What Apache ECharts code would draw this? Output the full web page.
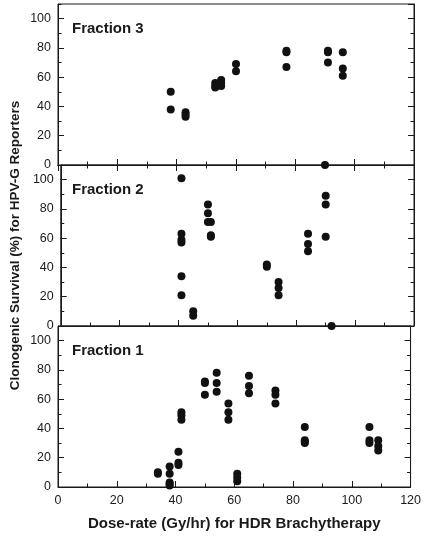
<!DOCTYPE html>
<html>
<head>
<meta charset="utf-8">
<script src="https://cdn.jsdelivr.net/npm/echarts@6/dist/echarts.min.js"></script>
<style>
html,body{margin:0;padding:0;background:#fff;}
#chart{width:424px;height:536px;}
</style>
</head>
<body>
<div id="chart"></div>
<script>
// Fraction 3 (top panel): [dose-rate, survival %]
const fraction3 = [
  [38, 50], [38, 38],
  [43, 36], [43, 34.5], [43, 33],
  [53, 56], [53, 54], [53, 53],
  [55, 58], [55, 56], [55, 54],
  [60, 69], [60, 64],
  [77, 78], [77, 77], [77, 67],
  [90, 0],
  [91, 78], [91, 77], [91, 70],
  [96, 77], [96, 66], [96, 61]
];
// Fraction 2 (middle panel)
const fraction2 = [
  [41, 101], [41, 63], [41, 59], [41, 57], [41, 34], [41, 21],
  [45, 10], [45, 7],
  [50, 83], [50, 77], [50, 71], [51, 71], [51, 62], [51, 61],
  [70, 42], [70, 40.5],
  [74, 30], [74, 26], [74, 21],
  [84, 63], [84, 56], [84, 51],
  [90, 89], [90, 83], [90, 61],
  [92, 0]
];
// Fraction 1 (bottom panel)
const fraction1 = [
  [34, 10], [34, 9],
  [38, 14], [38, 9], [38, 3], [38, 2], [38, 1],
  [41, 24], [41, 16.5], [41, 15],
  [42, 51], [42, 49], [42, 46],
  [50, 72], [50, 71], [50, 63],
  [54, 78], [54, 71], [54, 65],
  [58, 57], [58, 51], [58, 46],
  [61, 9], [61, 6.5], [61, 4],
  [65, 76], [65, 69], [65, 64],
  [74, 66], [74, 63], [74, 57],
  [84, 41], [84, 32], [84, 31], [84, 30],
  [106, 41], [106, 32], [106, 30],
  [109, 32], [109, 28], [109, 25]
];
const panelNames = ['Fraction 3', 'Fraction 2', 'Fraction 1'];
const xTitle = 'Dose-rate (Gy/hr) for HDR Brachytherapy';
const yTitle = 'Clonogenic Survival (%) for HPV-G Reporters';
const xRange = [0, 120];
const yRange = [0, 110];

const panelData = [fraction3, fraction2, fraction1];
const FONT = 'Liberation Sans, Arial, Helvetica, sans-serif';
const INK = '#1a1a1a';
const gridTops = [4, 165, 326];
const gridH = 161;

const grids = [], xAxes = [], yAxes = [], series = [], titles = [];
gridTops.forEach((top, i) => {
  grids.push({left: 58, width: 356, top: top, height: gridH, show: true,
    borderColor: INK, borderWidth: 1, backgroundColor: 'transparent', containLabel: false});
  const isBottom = i === 2;
  xAxes.push({
    gridIndex: i, type: 'value', position: 'bottom', min: xRange[0], max: xRange[1], interval: 20,
    name: isBottom ? xTitle : '', nameLocation: 'middle', nameGap: 29,
    nameTextStyle: {fontFamily: FONT, fontWeight: 'bold', fontSize: 15, color: INK},
    axisLine: {show: true, lineStyle: {color: INK, width: 1}},
    axisTick: {show: true, inside: true, length: 6, lineStyle: {color: INK}},
    minorTick: {show: true, splitNumber: 2, length: 3.5, lineStyle: {color: INK}},
    axisLabel: {show: isBottom, margin: 7, fontFamily: FONT, fontSize: 12.5, color: INK},
    splitLine: {show: false}, minorSplitLine: {show: false}
  });
  const xIdx = xAxes.length - 1;
  if (i === 0) {
    xAxes.push({
      gridIndex: i, type: 'value', position: 'top', min: xRange[0], max: xRange[1], interval: 20,
      axisLine: {show: true, lineStyle: {color: INK, width: 1}},
      axisTick: {show: true, inside: true, length: 6, lineStyle: {color: INK}},
      minorTick: {show: true, splitNumber: 2, length: 3.5, lineStyle: {color: INK}},
      axisLabel: {show: false}, splitLine: {show: false}
    });
  }
  const yIdx = yAxes.length;
  yAxes.push({
    gridIndex: i, type: 'value', position: 'left', min: yRange[0], max: yRange[1], interval: 20,
    name: i === 1 ? yTitle : '', nameLocation: 'middle', nameGap: 35,
    nameTextStyle: {fontFamily: FONT, fontWeight: 'bold', fontSize: 13.5, color: INK},
    axisLine: {show: true, lineStyle: {color: INK, width: 1}},
    axisTick: {show: true, inside: true, length: 6, lineStyle: {color: INK}},
    axisLabel: {show: true, margin: 7, fontFamily: FONT, fontSize: 12.5, color: INK, showMaxLabel: false},
    splitLine: {show: false}
  });
  yAxes.push({
    gridIndex: i, type: 'value', position: 'left', min: yRange[0], max: yRange[1], interval: 10,
    axisLine: {show: false},
    axisTick: {show: true, inside: true, length: 3.5, lineStyle: {color: INK}},
    axisLabel: {show: false}, splitLine: {show: false}
  });
  yAxes.push({
    gridIndex: i, type: 'value', position: 'right', min: yRange[0], max: yRange[1], interval: 20,
    axisLine: {show: true, lineStyle: {color: INK, width: 1}},
    axisTick: {show: true, inside: true, length: 6, lineStyle: {color: INK}},
    axisLabel: {show: false}, splitLine: {show: false}
  });
  yAxes.push({
    gridIndex: i, type: 'value', position: 'right', min: yRange[0], max: yRange[1], interval: 10,
    axisLine: {show: false},
    axisTick: {show: true, inside: true, length: 3.5, lineStyle: {color: INK}},
    axisLabel: {show: false}, splitLine: {show: false}
  });
  series.push({
    type: 'scatter', xAxisIndex: xIdx, yAxisIndex: yIdx,
    data: panelData[i], symbol: 'circle', symbolSize: 8, clip: false,
    itemStyle: {color: '#111', opacity: 1}, z: 5
  });
  titles.push({
    text: panelNames[i], left: 72, top: top + 17,
    textStyle: {fontFamily: FONT, fontWeight: 'bold', fontSize: 15, color: INK}, padding: 0
  });
});

const chart = echarts.init(document.getElementById('chart'), null, {renderer: 'canvas'});
chart.setOption({
  animation: false,
  backgroundColor: '#fff',
  title: titles,
  grid: grids,
  xAxis: xAxes,
  yAxis: yAxes,
  series: series
});
</script>
</body>
</html>
